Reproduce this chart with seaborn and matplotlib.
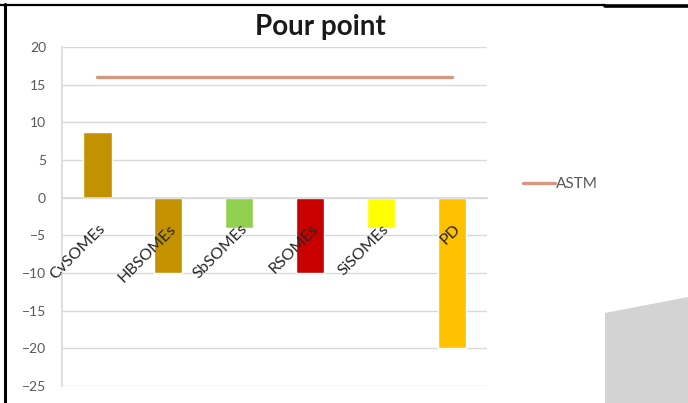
import matplotlib
matplotlib.use("Agg")
import matplotlib.pyplot as plt
from matplotlib.patches import Polygon
from matplotlib.lines import Line2D
from matplotlib.transforms import ScaledTranslation
import numpy as np
import pandas as pd
import seaborn as sns

# Pour point of each biodiesel sample against the ASTM limit
categories = ["CvSOMEs", "HBSOMEs", "SbSOMEs", "RSOMEs", "SiSOMEs", "PD"]
pour_point = [8.7, -10, -4, -10, -4, -20]
astm_limit = [16, 16, 16, 16, 16, 16]
bar_colors = ["#C49200", "#C49200", "#92D050", "#C80000", "#FFFF00", "#FFC000"]
y_ticks = [20, 15, 10, 5, 0, -5, -10, -15, -20, -25]

sns.set_theme(style="white")
plt.rcParams["font.family"] = ["Lato", "DejaVu Sans"]

df = pd.DataFrame({"sample": categories, "pour_point": pour_point,
                   "astm": astm_limit})

fig = plt.figure(figsize=(6.88, 4.03), dpi=100)
ax = fig.add_axes([0.0901, 0.0422, 0.618, 0.8412])

sns.barplot(data=df, x="sample", y="pour_point", hue="sample",
            palette=bar_colors, order=categories, hue_order=categories,
            width=0.4, saturation=1, legend=False, ax=ax)
sns.lineplot(x=np.arange(len(categories)), y=df["astm"], color="#D6977F",
             linewidth=2.4, label="ASTM", legend=False, ax=ax)

grid_c = "#D9D9D9"
ax.set_ylim(-25, 20)
ax.set_xlim(-0.5, len(categories) - 0.5)
ax.set_yticks(y_ticks)
ax.yaxis.grid(True, color=grid_c, linewidth=1)
ax.set_axisbelow(True)
ax.set_xlabel("")
ax.set_ylabel("")

for side in ("top", "right"):
    ax.spines[side].set_visible(False)
ax.spines["left"].set_color(grid_c)
ax.spines["bottom"].set_color(grid_c)
ax.spines["bottom"].set_position(("data", 0))

ax.tick_params(axis="y", length=5, width=1, color=grid_c, pad=6.5,
               labelsize=10, labelcolor="#595959")
ax.set_xticks(np.arange(len(categories)))
ax.set_xticklabels([])
ax.tick_params(axis="x", which="major", length=0)
ax.set_xticks(np.arange(-0.5, len(categories), 1.0), minor=True)
ax.tick_params(axis="x", which="minor", length=3, color=grid_c)

# category names sit on the zero line, drawn above the bars
offset = ScaledTranslation(0.06, -0.29, fig.dpi_scale_trans)
for i, name in enumerate(categories):
    ax.text(i, 0, name, rotation=45, ha="right", va="center",
            rotation_mode="anchor", fontsize=11.5, color="#262626",
            transform=ax.transData + offset, zorder=5)

fig.legend(loc="center left", bbox_to_anchor=(515 / 688, 1 - 184 / 403),
           frameon=False, fontsize=11, handlelength=2.1, handletextpad=0.05,
           borderpad=0, labelcolor="#595959")

fig.text(320 / 688, 1 - 27 / 403, "Pour point", ha="center", va="center",
         fontsize=20, fontweight="bold", color="#1a1a1a")

# page frame and the grey shape at the lower right
fig.add_artist(Line2D([5 / 688, 5 / 688], [0, 1 - 4 / 403], color="black",
                      linewidth=2.2, transform=fig.transFigure))
fig.add_artist(Line2D([0, 605 / 688], [1 - 5 / 403, 1 - 5 / 403],
                      color="black", linewidth=1.6, transform=fig.transFigure))
fig.add_artist(Line2D([605 / 688, 1], [1 - 6 / 403, 1 - 6 / 403],
                      color="black", linewidth=2.6, transform=fig.transFigure))
fig.add_artist(Polygon([[605 / 688, 0], [605 / 688, 1 - 313 / 403],
                        [1, 1 - 297 / 403], [1, 0]], closed=True,
                       facecolor="#D3D3D3", edgecolor="none",
                       transform=fig.transFigure))

fig.savefig("out.png", dpi=100)
